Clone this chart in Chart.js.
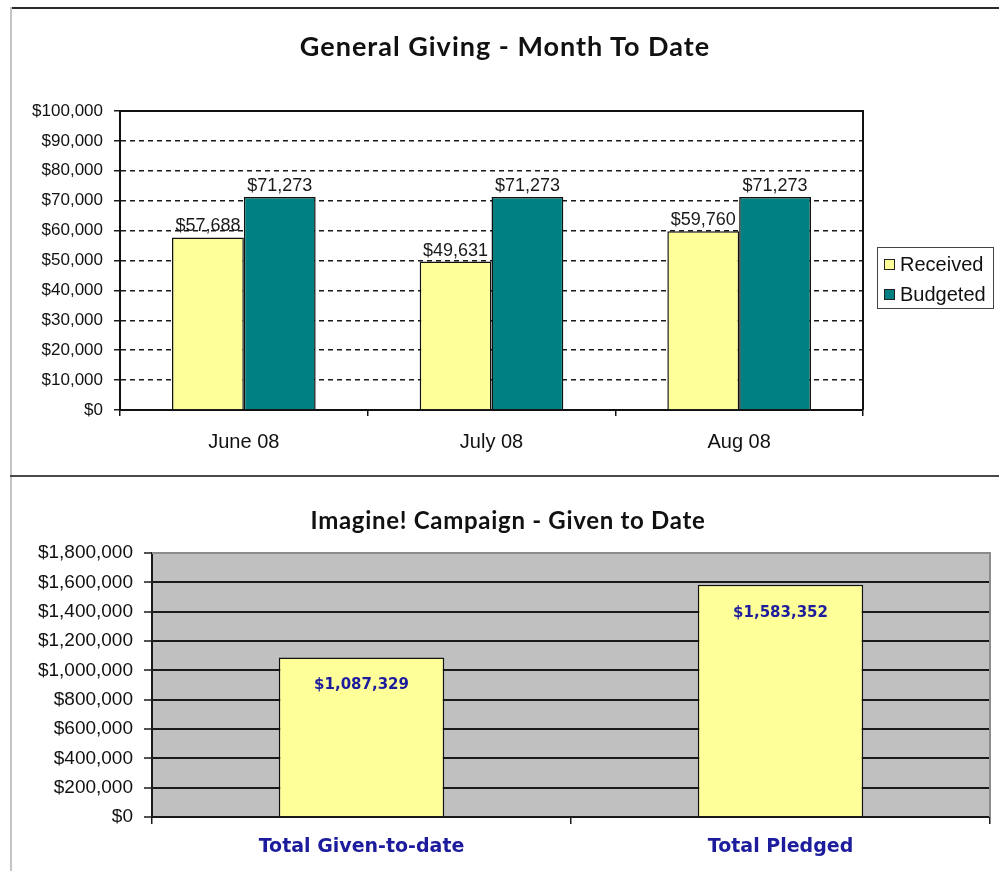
<!DOCTYPE html>
<html>
<head>
<meta charset="utf-8">
<script src="https://cdn.jsdelivr.net/npm/chart.js@4.4.1/dist/chart.umd.min.js"></script>
<style>
  html, body { margin: 0; padding: 0; background: #fff; }
  body { width: 999px; height: 871px; position: relative; overflow: hidden; }
  .abs { position: absolute; }
  #frameTop { left: 10px; top: 7px; width: 989px; height: 2px; background: #2a2a2a; }
  #frameLeft { left: 10px; top: 7px; width: 2px; height: 864px; background: #c4c4c4; }
  #frameSep { left: 10px; top: 475px; width: 989px; height: 2px; background: #4a4a4a; }
  #title1 { left: 0; width: 1010px; top: 29px; text-align: center; font: bold 27px Lato, "Open Sans", sans-serif; letter-spacing: 1px; color: #111; }
  #title2 { left: 0; width: 1016px; top: 505px; text-align: center; font: bold 24px Lato, "Open Sans", sans-serif; letter-spacing: 0.7px; color: #111; }
  #legend1 { left: 877px; top: 247px; width: 117px; height: 62px; border: 1.5px solid #444; box-sizing: border-box; font: 20px "Liberation Sans", Arial, sans-serif; color: #111; }
  #legend1 .item { position: absolute; left: 6px; height: 24px; line-height: 24px; white-space: nowrap; }
  #legend1 .sw { display: inline-block; width: 9px; height: 9px; border: 1px solid #222; margin-right: 5px; vertical-align: 1px; }
</style>
</head>
<body>
<canvas id="c1" class="abs" style="left:0;top:0;width:999px;height:476px" width="999" height="476"></canvas>
<canvas id="c2" class="abs" style="left:0;top:476px;width:999px;height:395px" width="999" height="395"></canvas>
<div id="frameTop" class="abs"></div>
<div id="frameLeft" class="abs"></div>
<div id="frameSep" class="abs"></div>
<div id="title1" class="abs">General Giving - Month To Date</div>
<div id="title2" class="abs">Imagine! Campaign - Given to Date</div>
<div id="legend1" class="abs"></div>
<script>
// ---- data: chart 1 ----
const months = ['June 08', 'July 08', 'Aug 08'];
const seriesNames = ['Received', 'Budgeted'];
const received = [57688, 49631, 59760];
const budgeted = [71273, 71273, 71273];
const yTicks1 = [0, 10000, 20000, 30000, 40000, 50000, 60000, 70000, 80000, 90000, 100000];

// ---- data: chart 2 ----
const campaignCats = ['Total Given-to-date', 'Total Pledged'];
const campaignVals = [1087329, 1583352];
const yTicks2 = [0, 200000, 400000, 600000, 800000, 1000000, 1200000, 1400000, 1600000, 1800000];

const money = v => '$' + Number(v).toLocaleString('en-US');
const colors1 = ['#ffff99', '#008080'];

const boxPlugin = {
  id: 'box',
  beforeDatasetsDraw(chart, args, opts) {
    if (!opts.enabled) return;
    const a = chart.chartArea, ctx = chart.ctx;
    ctx.save();
    ctx.strokeStyle = opts.color; ctx.lineWidth = opts.width;
    ctx.beginPath();
    ctx.moveTo(a.left, a.top); ctx.lineTo(a.right, a.top); ctx.lineTo(a.right, a.bottom);
    ctx.stroke();
    ctx.restore();
  }
};
const bgPlugin = {
  id: 'areabg',
  beforeDraw(chart, args, opts) {
    if (!opts.color) return;
    const a = chart.chartArea, ctx = chart.ctx;
    ctx.save(); ctx.fillStyle = opts.color;
    ctx.fillRect(a.left, a.top, a.right - a.left, a.bottom - a.top);
    ctx.restore();
  }
};
const labelPlugin = {
  id: 'vlabels',
  afterDatasetsDraw(chart, args, opts) {
    if (!opts.enabled) return;
    const ctx = chart.ctx;
    ctx.save();
    ctx.font = opts.font; ctx.fillStyle = opts.color; ctx.textAlign = 'center';
    chart.data.datasets.forEach((ds, i) => {
      chart.getDatasetMeta(i).data.forEach((el, j) => {
        const txt = money(ds.data[j]);
        if (opts.inside) { ctx.textBaseline = 'middle'; ctx.fillText(txt, el.x, el.y + opts.offset); }
        else { ctx.textBaseline = 'bottom'; ctx.fillText(txt, el.x, el.y - opts.offset); }
      });
    });
    ctx.restore();
  }
};

const axisFont1 = { family: '"Liberation Sans", Arial, sans-serif', size: 17 };

const chart1 = new Chart(document.getElementById('c1'), {
  type: 'bar',
  data: {
    labels: months,
    datasets: [
      { label: seriesNames[0], data: received, backgroundColor: colors1[0], borderColor: '#111', borderWidth: 1.5 },
      { label: seriesNames[1], data: budgeted, backgroundColor: colors1[1], borderColor: '#111', borderWidth: 1.5 }
    ]
  },
  plugins: [boxPlugin, labelPlugin],
  options: {
    responsive: false, animation: false,
    layout: { padding: { top: 111, right: 136, bottom: 6, left: 0 } },
    datasets: { bar: { categoryPercentage: 0.58, barPercentage: 1.0 } },
    plugins: {
      legend: { display: false }, tooltip: { enabled: false }, title: { display: false },
      box: { enabled: true, color: '#111', width: 2 },
      vlabels: { enabled: true, font: '18px "Liberation Sans", Arial, sans-serif', color: '#1a1a1a', offset: 2 }
    },
    scales: {
      y: {
        min: 0, max: 100000,
        afterBuildTicks: s => { s.ticks = yTicks1.map(v => ({ value: v })); },
        afterFit: s => { s.width = 120; },
        ticks: { callback: v => money(v), font: axisFont1, color: '#111', padding: 11 },
        grid: { color: '#1a1a1a', lineWidth: 1.5, tickLength: 6, tickColor: '#1a1a1a', tickWidth: 1.5, tickBorderDash: [] },
        border: { display: true, color: '#111', width: 2, dash: [5, 4] }
      },
      x: {
        afterFit: s => { s.height = 60; },
        ticks: { font: { family: '"Liberation Sans", Arial, sans-serif', size: 20 }, color: '#111', padding: 14 },
        grid: { drawOnChartArea: false, tickLength: 6, color: '#111', lineWidth: 1.5 },
        border: { display: true, color: '#111', width: 2 }
      }
    }
  }
});

// legend from datasets
const leg = document.getElementById('legend1');
chart1.data.datasets.forEach((ds, i) => {
  const d = document.createElement('div');
  d.className = 'item';
  d.style.top = (4 + i * 30) + 'px';
  d.innerHTML = '<span class="sw" style="background:' + ds.backgroundColor + '"></span>' + ds.label;
  leg.appendChild(d);
});

new Chart(document.getElementById('c2'), {
  type: 'bar',
  data: {
    labels: campaignCats,
    datasets: [
      { label: 'Given', data: campaignVals, backgroundColor: '#ffff99', borderColor: '#111', borderWidth: 1.5 }
    ]
  },
  plugins: [bgPlugin, boxPlugin, labelPlugin],
  options: {
    responsive: false, animation: false,
    layout: { padding: { top: 77, right: 9, bottom: 4, left: 0 } },
    datasets: { bar: { categoryPercentage: 1.0, barPercentage: 0.395 } },
    plugins: {
      legend: { display: false }, tooltip: { enabled: false }, title: { display: false },
      areabg: { color: '#c0c0c0' },
      box: { enabled: true, color: '#8c8c8c', width: 2 },
      vlabels: { enabled: true, inside: true, font: 'bold 15px "DejaVu Sans", Verdana, sans-serif', color: '#1c1c9c', offset: 28 }
    },
    scales: {
      y: {
        min: 0, max: 1800000,
        afterBuildTicks: s => { s.ticks = yTicks2.map(v => ({ value: v })); },
        afterFit: s => { s.width = 152; },
        ticks: { callback: v => money(v), font: { family: '"Liberation Sans", Arial, sans-serif', size: 19 }, color: '#111', padding: 11 },
        grid: { color: c => (c.tick && c.tick.value === 1800000) ? '#8c8c8c' : '#1a1a1a', lineWidth: 2, tickLength: 8, tickColor: '#1a1a1a', tickWidth: 1.5 },
        border: { display: true, color: '#1a1a1a', width: 2 }
      },
      x: {
        afterFit: s => { s.height = 50; },
        ticks: { font: { family: '"DejaVu Sans", Verdana, sans-serif', size: 19, weight: 'bold' }, color: '#1c1c9c', padding: 12 },
        grid: { drawOnChartArea: false, tickLength: 7, color: '#1a1a1a', lineWidth: 1.5 },
        border: { display: true, color: '#1a1a1a', width: 2 }
      }
    }
  }
});
</script>
</body>
</html>
